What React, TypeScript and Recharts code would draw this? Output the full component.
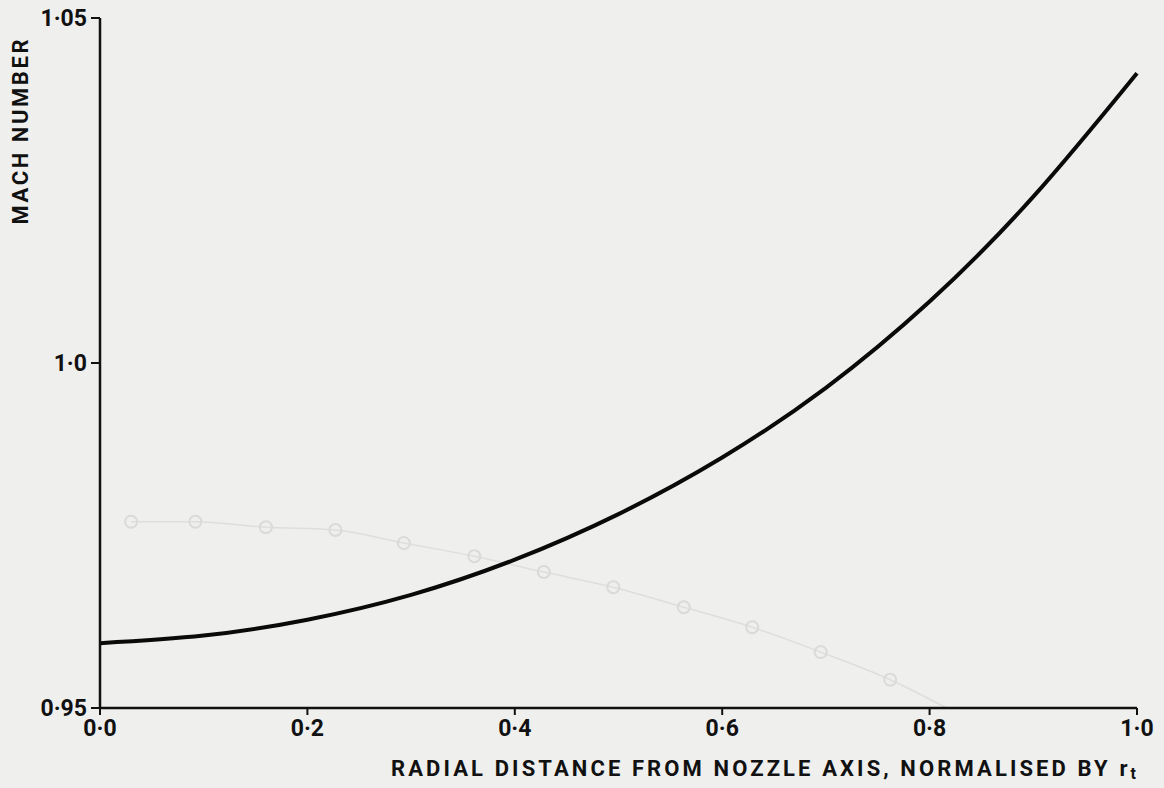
import React from 'react';
import { LineChart, Line, XAxis, YAxis } from 'recharts';

const radialPositions = [0, 0.1, 0.2, 0.3, 0.4, 0.5, 0.6, 0.7, 0.8, 0.9, 1.0];
const machNumbers = [0.9594, 0.9605, 0.9628, 0.9664, 0.9715, 0.9781, 0.9863, 0.9964, 1.0089, 1.0241, 1.042];

const ghostX = [0.03, 0.092, 0.16, 0.227, 0.293, 0.361, 0.428, 0.495, 0.563, 0.629, 0.695, 0.762, 0.829];
const ghostY = [0.977, 0.977, 0.9762, 0.9758, 0.9739, 0.972, 0.9697, 0.9675, 0.9646, 0.9617, 0.9581, 0.9541, 0.949];

const xTicks = [0, 0.2, 0.4, 0.6, 0.8, 1.0];
const xTickLabels = ['0·0', '0·2', '0·4', '0·6', '0·8', '1·0'];
const yTicks = [0.95, 1.0, 1.05];
const yTickLabels = ['0·95', '1·0', '1·05'];

const mainData = radialPositions.map((r, i) => ({ r, mach: machNumbers[i] }));
const ghostData = ghostX.map((r, i) => ({ r, ghost: ghostY[i] }));

const FONT = 'Roboto, "DejaVu Sans", sans-serif';
const INK = '#111';

const XTick = (props: any) => {
  const { x, y, payload } = props;
  const i = xTicks.indexOf(payload.value);
  return (
    <text x={x} y={y + 3} dy="0.71em" textAnchor="middle" fontFamily={FONT} fontWeight={700} fontSize={23} fill={INK}>
      {i >= 0 ? xTickLabels[i] : String(payload.value)}
    </text>
  );
};

const YTick = (props: any) => {
  const { x, y, payload } = props;
  const i = yTicks.indexOf(payload.value);
  return (
    <text x={x - 2} y={y} dy="0.36em" textAnchor="end" fontFamily={FONT} fontWeight={700} fontSize={23} fill={INK}>
      {i >= 0 ? yTickLabels[i] : String(payload.value)}
    </text>
  );
};

const XLabel = (props: any) => {
  const vb = props.viewBox || {};
  const y = vb.y + vb.height + 8;
  return (
    <text
      x={391}
      y={y}
      textAnchor="start"
      textLength={745}
      lengthAdjust="spacing"
      fontFamily={FONT}
      fontWeight={700}
      fontSize={22}
      fill={INK}
    >
      RADIAL  DISTANCE FROM NOZZLE AXIS, NORMALISED BY r
      <tspan fontSize={16} dy={3}>t</tspan>
    </text>
  );
};

const YLabel = () => {
  const cx = 20;
  const cy = 132;
  return (
    <text
      x={cx}
      y={cy}
      dy="0.36em"
      textAnchor="middle"
      transform={`rotate(-90 ${cx} ${cy})`}
      textLength={185}
      lengthAdjust="spacing"
      fontFamily={FONT}
      fontWeight={700}
      fontSize={22}
      fill={INK}
    >
      MACH NUMBER
    </text>
  );
};

export default function App() {
  return (
    <div style={{ position: 'absolute', left: 0, top: 0, width: 1164, height: 788, background: '#efefee' }}>
      <LineChart width={1164} height={788} margin={{ top: 18, right: 27, bottom: 20, left: 40 }}>
        <XAxis
          dataKey="r"
          type="number"
          domain={[0, 1]}
          ticks={xTicks}
          allowDuplicatedCategory={false}
          axisLine={{ stroke: INK, strokeWidth: 2.5 }}
          tickLine={{ stroke: INK, strokeWidth: 2 }}
          tickSize={7}
          tick={<XTick />}
          height={60}
          label={<XLabel />}
        />
        <YAxis
          type="number"
          domain={[0.95, 1.05]}
          ticks={yTicks}
          allowDataOverflow
          axisLine={{ stroke: INK, strokeWidth: 2.5 }}
          tickLine={{ stroke: INK, strokeWidth: 2 }}
          tickSize={9}
          tick={<YTick />}
          width={60}
          label={<YLabel />}
        />
        <Line
          data={ghostData}
          dataKey="ghost"
          type="monotone"
          stroke="#dedede"
          strokeWidth={1.5}
          dot={{ r: 6, stroke: '#dadada', strokeWidth: 2, fill: 'none' }}
          isAnimationActive={false}
        />
        <Line
          data={mainData}
          dataKey="mach"
          type="natural"
          stroke="#0a0a0a"
          strokeWidth={4}
          dot={false}
          isAnimationActive={false}
        />
      </LineChart>
    </div>
  );
}
